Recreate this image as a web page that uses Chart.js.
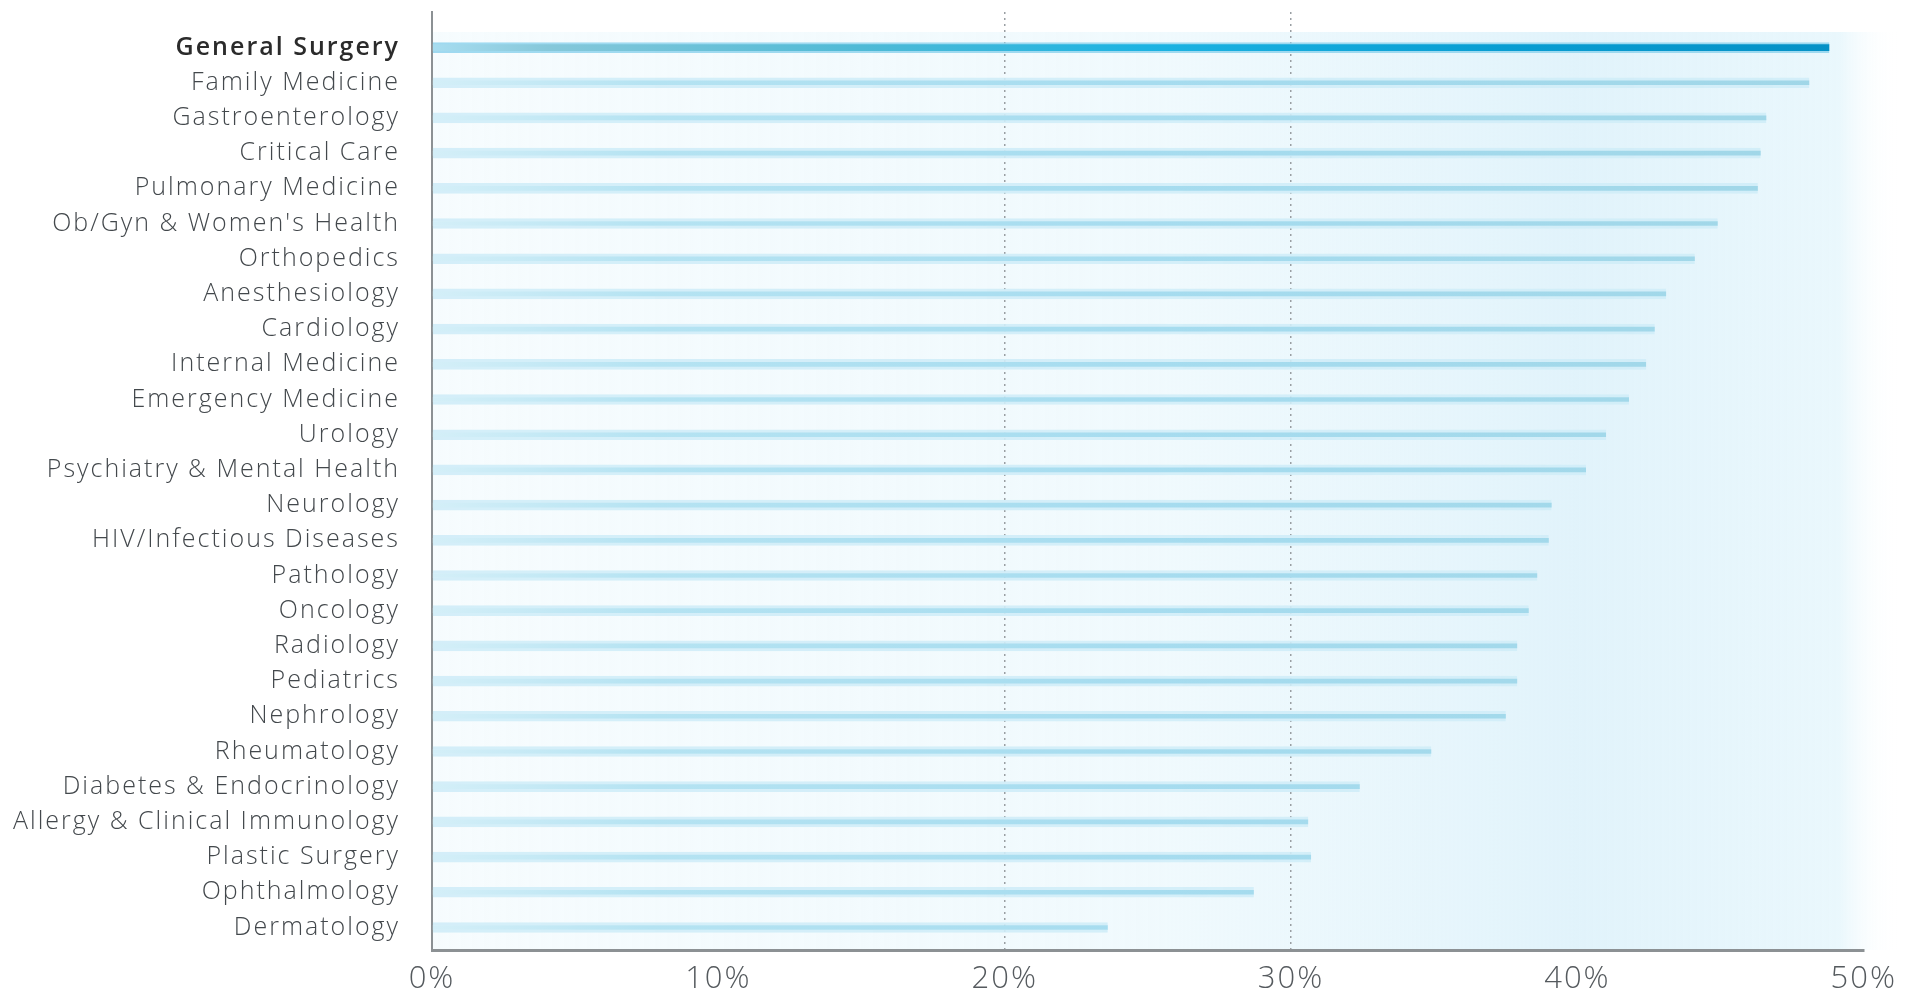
<!DOCTYPE html>
<html>
<head>
<meta charset="utf-8">
<script src="https://cdn.jsdelivr.net/npm/chart.js@4.4.1/dist/chart.umd.min.js"></script>
<style>
  html, body { margin: 0; padding: 0; background: #ffffff; }
  #wrap { position: relative; width: 1911px; height: 994px; }
</style>
</head>
<body>
<div id="wrap"><canvas id="chart"></canvas></div>
<script>
// Specialties, top to bottom
const categories = [
  "General Surgery", "Family Medicine", "Gastroenterology", "Critical Care",
  "Pulmonary Medicine", "Ob/Gyn & Women's Health", "Orthopedics", "Anesthesiology",
  "Cardiology", "Internal Medicine", "Emergency Medicine", "Urology",
  "Psychiatry & Mental Health", "Neurology", "HIV/Infectious Diseases", "Pathology",
  "Oncology", "Radiology", "Pediatrics", "Nephrology", "Rheumatology",
  "Diabetes & Endocrinology", "Allergy & Clinical Immunology", "Plastic Surgery",
  "Ophthalmology", "Dermatology"
];

// Share of respondents, percent
const shares = [
  48.8, 48.1, 46.6, 46.4, 46.3, 44.9, 44.1, 43.1, 42.7, 42.4, 41.8, 41.0, 40.3,
  39.1, 39.0, 38.6, 38.3, 37.9, 37.9, 37.5, 34.9, 32.4, 30.6, 30.7, 28.7, 23.6
];

// Percentage axis ticks
const xTickValues = [0, 10, 20, 30, 40, 50];
const gridTickValues = [20, 30];

const FONT = "'Open Sans', 'Noto Sans', sans-serif";
const LETTER_SPACING = '2px';

function barFill(context, highlight) {
  const chart = context.chart;
  const area = chart.chartArea;
  if (!area) return highlight ? '#0a9fd3' : '#a9ddef';
  const g = chart.ctx.createLinearGradient(area.left, 0, area.right, 0);
  if (highlight) {
    g.addColorStop(0, '#a8ddf0');
    g.addColorStop(0.08, '#86c8da');
    g.addColorStop(0.3, '#4fbad6');
    g.addColorStop(0.5, '#1cb3e2');
    g.addColorStop(0.75, '#089dd2');
    g.addColorStop(1, '#0590c5');
  } else {
    g.addColorStop(0, '#d4eff8');
    g.addColorStop(0.15, '#b5e3f2');
    g.addColorStop(0.5, '#a6dcef');
    g.addColorStop(1, '#a0d6e7');
  }
  return g;
}

// Soft blue wash behind the plot
const washPlugin = {
  id: 'wash',
  beforeDraw(chart) {
    const { ctx, chartArea: a } = chart;
    ctx.save();
    const right = a.right + 34;
    const g = ctx.createLinearGradient(a.left, 0, right, 0);
    g.addColorStop(0, 'rgba(230,246,252,0.35)');
    g.addColorStop(0.5, 'rgba(230,246,252,0.6)');
    g.addColorStop(0.78, 'rgba(225,243,251,1)');
    g.addColorStop(0.96, 'rgba(230,246,252,0.85)');
    g.addColorStop(1, 'rgba(255,255,255,0)');
    ctx.fillStyle = g;
    ctx.fillRect(a.left, a.top + 20, right - a.left, a.bottom - a.top - 20);
    ctx.restore();
    ctx.letterSpacing = LETTER_SPACING;
  }
};

const spacingPlugin = {
  id: 'spacing',
  beforeUpdate(chart) { chart.ctx.letterSpacing = LETTER_SPACING; }
};

const ctx = document.getElementById('chart');
new Chart(ctx, {
  type: 'bar',
  data: {
    datasets: [{
      data: shares.map((v, i) => ({ x: v, y: i })),
      backgroundColor: (c) => barFill(c, c.dataIndex === 0),
      borderColor: (c) => c.dataIndex === 0 ? 'rgba(150,214,238,0.9)' : 'rgba(208,237,248,0.9)',
      borderWidth: (c) => c.dataIndex === 0 ? { top: 2, bottom: 2, left: 0, right: 0 } : { top: 3, bottom: 3, left: 0, right: 0 },
      borderSkipped: false,
      barThickness: 10
    }]
  },
  plugins: [washPlugin, spacingPlugin],
  options: {
    indexAxis: 'y',
    responsive: true,
    maintainAspectRatio: false,
    animation: false,
    layout: { padding: { top: 12, right: 38, bottom: 0, left: 0 } },
    plugins: { legend: { display: false }, tooltip: { enabled: false } },
    scales: {
      x: {
        type: 'linear',
        min: 0,
        max: 50,
        afterBuildTicks(scale) { scale.ticks = xTickValues.map(v => ({ value: v })); },
        afterFit(scale) { scale.height = 44; },
        grid: {
          drawTicks: false,
          lineWidth: 1.5,
          color: (c) => gridTickValues.includes(c.tick && c.tick.value) ? '#9a9fa3' : 'rgba(0,0,0,0)'
        },
        border: { display: true, color: '#8c9194', width: 3, dash: [2, 4] },
        ticks: {
          padding: 14,
          color: '#555a5e',
          font: { family: FONT, size: 31, weight: 300, lineHeight: 0.95 },
          callback: (v) => v + '%'
        }
      },
      y: {
        type: 'linear',
        reverse: true,
        offset: false,
        min: -1.01,
        max: 25.64,
        afterFit(scale) {
          scale.width = 432;
          scale.paddingTop = 0;
          scale.paddingBottom = 0;
        },
        grid: { display: false, drawTicks: false, offset: false },
        border: { display: true, color: '#8c9194', width: 2 },
        ticks: {
          stepSize: 1,
          includeBounds: false,
          maxTicksLimit: 40,
          autoSkip: false,
          padding: 32,
          color: (c) => c.tick && c.tick.value === 0 ? '#2b2b2b' : '#43484c',
          font: (c) => ({
            family: FONT,
            size: 25,
            weight: c.tick && c.tick.value === 0 ? 600 : 300
          }),
          callback: (v) => (Number.isInteger(v) && categories[v] !== undefined) ? categories[v] : ''
        }
      }
    }
  }
});
</script>
</body>
</html>
